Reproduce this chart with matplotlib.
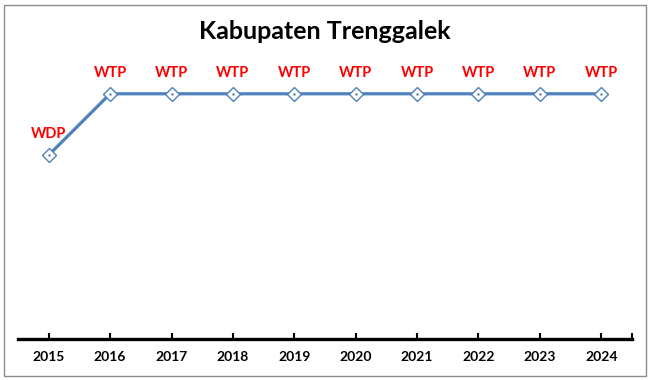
import matplotlib
matplotlib.use('Agg')
import matplotlib.pyplot as plt
from matplotlib.patches import Rectangle

years = [2015, 2016, 2017, 2018, 2019, 2020, 2021, 2022, 2023, 2024]
opinion = ['WDP', 'WTP', 'WTP', 'WTP', 'WTP', 'WTP', 'WTP', 'WTP', 'WTP', 'WTP']
score = {'WDP': 3, 'WTP': 4}
values = [score[o] for o in opinion]

plt.rcParams['font.family'] = ['Lato', 'DejaVu Sans']

fig = plt.figure(figsize=(6.5, 3.8), dpi=100)
ax = fig.add_axes([0.0277, 0.1079, 0.9446, 0.8066])

line_color = '#4F81BD'
ax.plot(years, values, color=line_color, lw=2.3, marker='D', markersize=7.5,
        markerfacecolor='white', markeredgecolor=line_color, markeredgewidth=1.0, zorder=3)
ax.plot(years, values, ls='none', marker='.', markersize=1.5, color=line_color, zorder=4)

for x, y, lab in zip(years, values, opinion):
    ax.annotate(lab, (x, y), xytext=(0, 15), textcoords='offset points',
                ha='center', va='center', color='#FF0000', fontsize=10.5, fontweight='bold')

ax.set_xlim(years[0] - 0.5, years[-1] + 0.5)
ax.set_ylim(0, 5)
ax.set_yticks([])
for s in ['top', 'right', 'left']:
    ax.spines[s].set_visible(False)
ax.spines['bottom'].set_linewidth(2.4)
ax.set_xticks(years + [years[-1] + 0.5])
ax.set_xticklabels([str(y) for y in years] + [''])
ax.tick_params(axis='x', direction='in', length=4, width=1.5, pad=9, labelsize=10)
for t in ax.get_xticklabels():
    t.set_fontweight('bold')

fig.text(0.5, 0.918, 'Kabupaten Trenggalek', ha='center', va='center',
         fontsize=18, fontweight='bold')

fig.patches.append(Rectangle((3.5 / 650, 4.5 / 380), 642 / 650, 371 / 380,
                             transform=fig.transFigure, fill=False,
                             edgecolor='#8C8C8C', lw=1.0))

fig.savefig('out.png', dpi=100)
